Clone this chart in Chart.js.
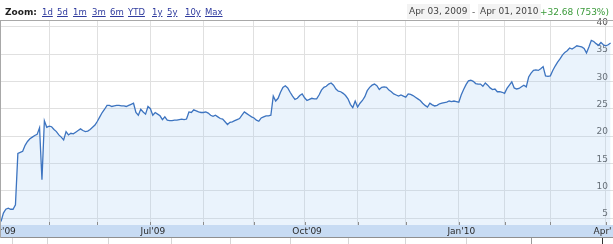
<!DOCTYPE html>
<html>
<head>
<meta charset="utf-8">
<script src="https://cdn.jsdelivr.net/npm/chart.js@4.4.1/dist/chart.umd.min.js"></script>
<style>
html,body{margin:0;padding:0;background:#fff;width:613px;height:244px;overflow:hidden;font-family:"DejaVu Sans",Verdana,sans-serif;}
#wrap{position:relative;width:613px;height:244px;}
#c{position:absolute;left:0;top:0;}
.h{position:absolute;top:5px;line-height:14px;white-space:nowrap;}
.zoomlbl{left:5px;font-size:9px;font-weight:bold;color:#222;}
.lnk{font-size:8.5px;color:#2f3b9e;text-decoration:underline;}
.box{font-size:9px;color:#444;background:#f3f3f3;padding:0 2px;top:4px;line-height:15px;}
.dash{font-size:9px;color:#555;}
.chg{font-size:9px;color:#3a9a3a;}
</style>
</head>
<body>
<div id="wrap">
<canvas id="c" width="613" height="244"></canvas>
<div id="hdr"></div>
</div>
<script>
// ---- data ----
const firstDay = 1; // trading-day index of the first price (Apr 03, 2009)
const prices = [
4.34,5.9,6.6,6.8,6.6,6.6,7.4,16.8,17.0,17.2,
18.3,19.0,19.5,19.8,20.1,20.3,21.5,12.0,22.8,21.6,
21.8,21.7,21.2,20.8,20.2,19.8,19.3,20.8,20.2,20.5,
20.4,20.7,21.0,21.3,21.0,20.8,20.9,21.2,21.6,22.0,
22.7,23.5,24.3,24.9,25.6,25.6,25.4,25.5,25.6,25.6,
25.5,25.5,25.4,25.6,25.8,26.0,24.3,23.8,24.9,24.4,
24.0,25.4,25.0,23.8,24.3,24.0,23.7,23.0,23.5,22.9,
22.8,22.8,22.9,22.9,23.0,23.1,23.0,23.1,24.4,24.3,
24.8,24.6,24.4,24.3,24.3,24.4,24.2,23.8,23.6,23.8,
23.5,23.2,23.1,22.6,22.1,22.5,22.6,22.8,23.0,23.2,
23.8,24.4,24.1,23.8,23.5,23.3,22.9,22.7,23.3,23.5,
23.7,23.7,23.8,27.3,26.4,26.9,28.0,28.9,29.2,28.8,
28.0,27.3,26.7,26.9,27.4,27.7,27.0,26.5,26.7,26.9,
26.8,26.8,27.5,28.4,28.9,29.1,29.5,29.7,29.3,28.6,
28.2,28.1,27.8,27.4,26.8,25.8,25.2,26.4,25.3,26.0,
26.5,27.2,28.3,28.9,29.3,29.5,29.2,28.5,28.9,29.0,
28.9,28.4,28.1,27.7,27.5,27.3,27.5,27.3,27.1,27.7,
27.6,27.4,27.1,26.8,26.5,26.0,25.6,25.3,26.0,25.7,
25.5,25.6,25.9,26.0,26.1,26.2,26.4,26.3,26.4,26.3,
26.2,27.5,28.5,29.4,30.1,30.2,30.0,29.6,29.5,29.5,
29.1,29.7,29.3,28.8,28.5,28.6,28.1,28.1,28.0,27.8,
28.7,29.3,29.9,28.8,28.6,28.7,29.0,29.3,29.0,30.8,
31.5,32.0,32.1,32.0,32.3,32.7,31.0,30.9,31.0,32.0,
32.8,33.5,34.1,34.8,35.3,35.6,36.1,35.9,36.2,36.5,
36.4,36.3,36.0,35.2,36.3,37.5,37.3,36.9,36.6,37.1,
36.7,36.5,36.7,37.0
];
const monthTickDays = [0,21,41,63,85,106,127,149,169,191,210,229,252];
const monthTickLabels = ["Apr'09","","","Jul'09","","","Oct'09","","","Jan'10","","","Apr'10"];
const yTicks = [5,10,15,20,25,30,35,40];
const zoomLinks = ["1d","5d","1m","3m","6m","YTD","1y","5y","10y","Max"];
const rangeStart = "Apr 03, 2009";
const rangeEnd = "Apr 01, 2010";
const rangeChange = "+32.68 (753%)";

// ---- header (real text) ----
const linkX = [42,57,73,92,110,128,152,167,185,205];
let html = '<span class="h zoomlbl">Zoom:</span>';
zoomLinks.forEach((l,i)=>{ html += `<span class="h lnk" style="left:${linkX[i]}px">${l}</span>`; });
html += `<span class="h box" style="left:407px">${rangeStart}</span>`;
html += `<span class="h dash" style="left:472px">-</span>`;
html += `<span class="h box" style="left:478px">${rangeEnd}</span>`;
html += `<span class="h chg" style="left:540px">${rangeChange}</span>`;
document.getElementById('hdr').innerHTML = html;

const points = prices.map((p,i)=>({x: firstDay + i, y: p}));

const frame = {
  id: 'frame',
  beforeDatasetsDraw(chart){
    const {ctx, chartArea:a, scales:{y}} = chart;
    ctx.save();
    ctx.font = '9px "DejaVu Sans"';
    ctx.fillStyle = '#555'; ctx.textAlign = 'right'; ctx.textBaseline = 'middle';
    yTicks.forEach(v=>{ ctx.fillText(String(v), a.right - 5, y.getPixelForValue(v) - 4); });
    ctx.restore();
  },
  afterDraw(chart){
    const {ctx, chartArea:a, scales:{x}} = chart;
    const W = chart.width;
    ctx.save();
    // small tick marks at bottom of plot
    ctx.strokeStyle = '#8c8c8c'; ctx.lineWidth = 1;
    monthTickDays.forEach(d=>{
      const px = Math.round(x.getPixelForValue(d))+0.5;
      ctx.beginPath(); ctx.moveTo(px, a.bottom-3); ctx.lineTo(px, a.bottom); ctx.stroke();
    });
    // axis band
    ctx.fillStyle = '#c7dbf3';
    ctx.fillRect(0, a.bottom, W, 12);
    ctx.fillStyle = '#8f8f8f';
    ctx.fillRect(0, a.bottom+12, W, 1);
    // navigator remnants below
    ctx.strokeStyle = '#d6d6d6';
    [12,47,108,171,230,290,348,405,466].forEach(px=>{
      ctx.beginPath(); ctx.moveTo(px+0.5, a.bottom+13); ctx.lineTo(px+0.5, 244); ctx.stroke();
    });
    ctx.strokeStyle = '#9a9a9a';
    ctx.beginPath(); ctx.moveTo(531.5, a.bottom+13); ctx.lineTo(531.5, 244); ctx.stroke();
    ctx.strokeStyle = '#333';
    ctx.beginPath(); ctx.moveTo(602.5, a.bottom+13); ctx.lineTo(602.5, 244); ctx.stroke();
    // labels
    ctx.save();
    ctx.beginPath(); ctx.rect(0, a.bottom, 612, 12); ctx.clip();
    ctx.font = '9px "DejaVu Sans"';
    ctx.fillStyle = '#2a2a2a'; ctx.textAlign = 'center'; ctx.textBaseline = 'middle';
    monthTickLabels.forEach((lab,i)=>{
      if(lab) ctx.fillText(lab, x.getPixelForValue(monthTickDays[i]) + 2.5, a.bottom+6.5);
    });
    ctx.restore();
    // frame border
    ctx.fillStyle = '#a8a8a8';
    ctx.fillRect(0, a.top-1, W, 1);
    ctx.fillRect(0, a.top-1, 1, a.bottom - a.top + 14);
    ctx.restore();
  }
};

new Chart(document.getElementById('c'), {
  type: 'line',
  data: { datasets: [{
    data: points,
    borderColor: '#3d74c0',
    borderWidth: 1.3,
    backgroundColor: 'rgba(160,200,240,0.22)',
    fill: 'start',
    pointRadius: 0,
    tension: 0
  }]},
  options: {
    responsive: false,
    animation: false,
    devicePixelRatio: 1,
    layout: { padding: { left: 1, top: 21, right: 0, bottom: 19 } },
    plugins: { legend: { display: false }, tooltip: { enabled: false } },
    scales: {
      x: {
        type: 'linear', min: 1, max: 255,
        afterBuildTicks: s => { s.ticks = monthTickDays.map(v=>({value:v})); },
        afterFit: s => { s.height = 0; },
        ticks: { display: false },
        grid: { color: '#e0e0e0', drawTicks: false },
        border: { display: false }
      },
      y: {
        position: 'right', min: 3.72, max: 41.04,
        afterBuildTicks: s => { s.ticks = yTicks.map(v=>({value:v})); },
        afterFit: s => { s.width = 0; },
        ticks: { display: false },
        grid: { color: '#e0e0e0', drawTicks: false },
        border: { display: false }
      }
    }
  },
  plugins: [frame]
});
</script>
</body>
</html>
